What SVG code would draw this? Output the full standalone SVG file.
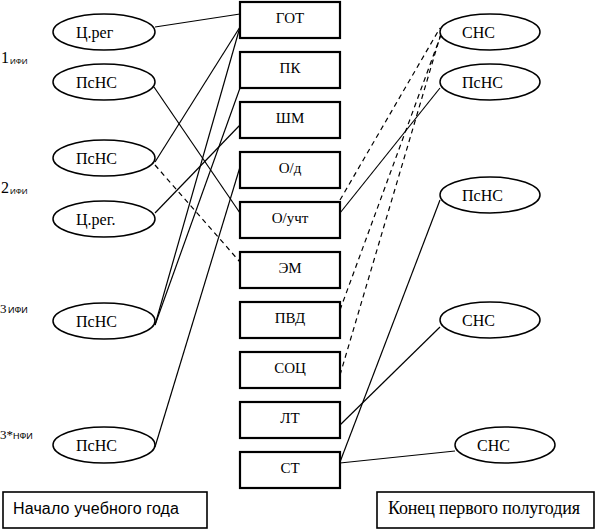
<svg xmlns="http://www.w3.org/2000/svg" width="597" height="531" viewBox="0 0 597 531">
<style>
.el{fill:#fff;stroke:#000;stroke-width:1.5}
.bx{fill:#fff;stroke:#000;stroke-width:2.2}
.lb{fill:#fff;stroke:#000;stroke-width:1.6}
.ln{stroke:#000;stroke-width:1.2;fill:none}
.d{stroke-dasharray:5 4}
</style>
<rect x="0" y="0" width="597" height="531" fill="#fff"/>
<g id="labels">
<text x="1" y="63" font-size="16" font-family="'Liberation Serif'">1</text><text x="10" y="64" font-size="8" font-family="'Liberation Sans'">ИФИ</text>
<text x="1" y="193" font-size="16" font-family="'Liberation Serif'">2</text><text x="10" y="194" font-size="8" font-family="'Liberation Sans'">ИФИ</text>
<text x="0" y="313" font-size="13" font-family="'Liberation Serif'">3</text><text x="8" y="313" font-size="9" font-family="'Liberation Sans'">ИФИ</text>
<text x="0" y="439" font-size="13" font-family="'Liberation Serif'">3*</text><text x="13" y="439" font-size="9" font-family="'Liberation Sans'">НФИ</text>
</g>
<g id="connectors">
<line class="ln" x1="155" y1="27" x2="240" y2="14"/>
<line class="ln" x1="154" y1="87" x2="240" y2="213"/>
<line class="ln" x1="155" y1="162" x2="240" y2="27"/>
<line class="ln d" x1="155" y1="165" x2="240" y2="262"/>
<line class="ln" x1="155" y1="213" x2="240" y2="125"/>
<line class="ln" x1="155" y1="325" x2="240" y2="27"/>
<line class="ln" x1="155" y1="325" x2="240" y2="88"/>
<line class="ln" x1="155" y1="447" x2="240" y2="167"/>
<line class="ln" x1="340" y1="213" x2="440" y2="88"/>
<line class="ln d" x1="340" y1="200" x2="440" y2="28"/>
<line class="ln d" x1="340" y1="310" x2="442" y2="32"/>
<line class="ln d" x1="340" y1="375" x2="442" y2="30"/>
<line class="ln" x1="340" y1="462" x2="440" y2="200"/>
<line class="ln" x1="340" y1="425" x2="440" y2="327"/>
<line class="ln" x1="340" y1="463" x2="455" y2="451"/>
</g>
<g id="l1"><ellipse class="el" cx="104" cy="32" rx="51" ry="18"/><text x="76" y="38" font-size="16" font-family="'Liberation Serif'">Ц.рег</text></g>
<g id="l2"><ellipse class="el" cx="104" cy="82" rx="51" ry="18"/><text x="76" y="88" font-size="16" font-family="'Liberation Serif'">ПсНС</text></g>
<g id="l3"><ellipse class="el" cx="104" cy="158" rx="51" ry="18"/><text x="76" y="164" font-size="16" font-family="'Liberation Serif'">ПсНС</text></g>
<g id="l4"><ellipse class="el" cx="104" cy="219" rx="51" ry="18"/><text x="76" y="225" font-size="16" font-family="'Liberation Serif'">Ц.рег.</text></g>
<g id="l5"><ellipse class="el" cx="104" cy="321" rx="51" ry="18"/><text x="76" y="327" font-size="16" font-family="'Liberation Serif'">ПсНС</text></g>
<g id="l6"><ellipse class="el" cx="104" cy="445" rx="51" ry="18"/><text x="76" y="451" font-size="16" font-family="'Liberation Serif'">ПсНС</text></g>
<g id="r1"><ellipse class="el" cx="490" cy="32" rx="50" ry="18"/><text x="462" y="38" font-size="16" font-family="'Liberation Serif'">СНС</text></g>
<g id="r2"><ellipse class="el" cx="490" cy="82" rx="50" ry="18"/><text x="462" y="88" font-size="16" font-family="'Liberation Serif'">ПсНС</text></g>
<g id="r3"><ellipse class="el" cx="490" cy="195" rx="50" ry="18"/><text x="462" y="201" font-size="16" font-family="'Liberation Serif'">ПсНС</text></g>
<g id="r4"><ellipse class="el" cx="490" cy="320" rx="50" ry="18"/><text x="462" y="326" font-size="16" font-family="'Liberation Serif'">СНС</text></g>
<g id="r5"><ellipse class="el" cx="505" cy="445" rx="50" ry="18"/><text x="477" y="451" font-size="16" font-family="'Liberation Serif'">СНС</text></g>
<g id="b1"><rect class="bx" x="240" y="2" width="100" height="36"/><text x="290" y="23" font-size="15" font-family="'Liberation Serif'" text-anchor="middle">ГОТ</text></g>
<g id="b2"><rect class="bx" x="240" y="52" width="100" height="36"/><text x="290" y="73" font-size="15" font-family="'Liberation Serif'" text-anchor="middle">ПК</text></g>
<g id="b3"><rect class="bx" x="240" y="102" width="100" height="36"/><text x="290" y="123" font-size="15" font-family="'Liberation Serif'" text-anchor="middle">ШМ</text></g>
<g id="b4"><rect class="bx" x="240" y="152" width="100" height="36"/><text x="290" y="173" font-size="15" font-family="'Liberation Serif'" text-anchor="middle">О/д</text></g>
<g id="b5"><rect class="bx" x="240" y="202" width="100" height="36"/><text x="290" y="223" font-size="15" font-family="'Liberation Serif'" text-anchor="middle">О/учт</text></g>
<g id="b6"><rect class="bx" x="240" y="252" width="100" height="36"/><text x="290" y="273" font-size="15" font-family="'Liberation Serif'" text-anchor="middle">ЭМ</text></g>
<g id="b7"><rect class="bx" x="240" y="302" width="100" height="36"/><text x="290" y="323" font-size="15" font-family="'Liberation Serif'" text-anchor="middle">ПВД</text></g>
<g id="b8"><rect class="bx" x="240" y="352" width="100" height="36"/><text x="290" y="373" font-size="15" font-family="'Liberation Serif'" text-anchor="middle">СОЦ</text></g>
<g id="b9"><rect class="bx" x="240" y="402" width="100" height="36"/><text x="290" y="423" font-size="15" font-family="'Liberation Serif'" text-anchor="middle">ЛТ</text></g>
<g id="b10"><rect class="bx" x="240" y="452" width="100" height="36"/><text x="290" y="473" font-size="15" font-family="'Liberation Serif'" text-anchor="middle">СТ</text></g>
<g id="start"><rect class="lb" x="3" y="492" width="204" height="36"/><text x="13" y="514" font-size="16" font-family="'Liberation Sans'" textLength="166">Начало учебного года</text></g>
<g id="end"><rect class="lb" x="377" y="492" width="217" height="36"/><text x="388" y="514" font-size="18" font-family="'Liberation Serif'" textLength="192">Конец первого полугодия</text></g>
</svg>
